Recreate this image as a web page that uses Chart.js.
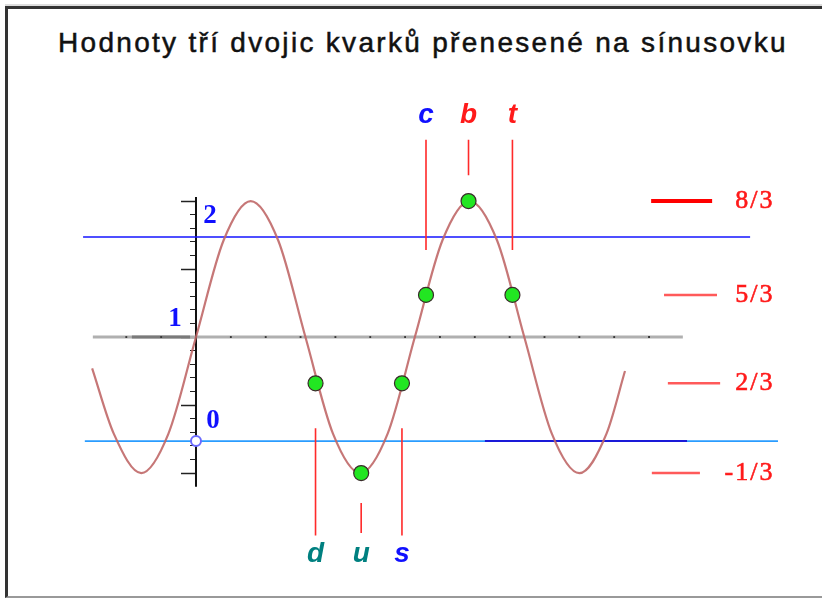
<!DOCTYPE html>
<html>
<head>
<meta charset="utf-8">
<script src="https://cdn.jsdelivr.net/npm/chart.js@4.4.1/dist/chart.umd.min.js"></script>
<style>
html, body { margin: 0; padding: 0; background: #fff; width: 822px; height: 599px; overflow: hidden; }
#frame { position: absolute; left: 5px; top: 6px; width: 840px; height: 587px;
         border-left: 3px solid #333; border-top: 3px solid #333; border-bottom: 2px solid #999;
         box-shadow: 0 -2px 0 #ddd; }
#title { position: absolute; left: 58px; top: 27px; white-space: nowrap;
         font: 28px "Liberation Sans", Arial, sans-serif; line-height: 32px;
         letter-spacing: 2.3px; color: #111; -webkit-text-stroke: 0.5px #111; }
#chart { position: absolute; left: 0; top: 0; }
</style>
</head>
<body>
<div id="frame"></div>
<div id="title">Hodnoty tří dvojic kvarků přenesené na sínusovku</div>
<canvas id="chart" width="822" height="599"></canvas>
<script>
// sine curve (x in radians, y in axis units)
var curveX = [-2.98, -2.36, -1.57, -0.79, 0, 0.79, 1.57, 2.36, 3.14, 3.93, 4.71, 5.50, 6.28, 7.07, 7.85, 8.64, 9.42, 10.21, 11.00, 11.78, 12.31];
var curveY = [0.77, 0.29, 0, 0.29, 1, 1.71, 2, 1.71, 1, 0.29, 0, 0.29, 1, 1.71, 2, 1.71, 1, 0.29, 0, 0.29, 0.75];

// quarks
var quarkNames = ['d', 'u', 's', 'c', 'b', 't'];
var quarkX = [3.43, 4.74, 5.91, 6.6, 7.82, 9.08];
var quarkY = [0.66, 0, 0.66, 1.31, 2, 1.31];

// charge levels on the right
var chargeLabels = ['8/3', '5/3', '2/3', '-1/3'];
var chargeLevels = [2, 1.31, 0.66, 0];
var levelStart = [13.06, 13.43, 13.54, 13.08];
var levelEnd = [14.81, 14.95, 15.04, 14.46];

// vertical axis labels
var axisLabels = ['2', '1', '0'];
var axisLabelValues = [2, 1, 0.235];

// horizontal guide lines
var upperLineY = 1.735;
var upperLineX = [-3.24, 15.9];
var zeroLineY = 0.235;
var zeroLineX = [-3.19, 16.7];
var zeroOverlayX = [8.29, 14.09];

// gray horizontal axis and its ticks
var grayAxisX = [-2.96, 13.97];
var grayAxisDarkX = [-1.84, -0.17];
var grayTicks = [-2, -1, 0, 1, 2, 3, 4, 5, 6, 7, 8, 9, 10, 11, 12, 13];

// vertical axis extent
var vAxisY = [-0.1, 2.03];

var quarkColors = ['#008080', '#008080', '#1010ff', '#1010ff', '#ff1a1a', '#ff1a1a'];

var pts = function (xs, ys) {
    var out = [];
    for (var i = 0; i < xs.length; ++i) {
        out.push({ x: xs[i], y: ys[i] });
    }
    return out;
};

var hline = function (xr, y) {
    return [{ x: xr[0], y: y }, { x: xr[1], y: y }];
};

// marker stubs next to each quark (top row for upper quarks, bottom row for lower)
var markerData = function () {
    var out = [];
    for (var i = 0; i < quarkNames.length; ++i) {
        var top = quarkY[i] > 1;
        var y1, y2;
        if (top) {
            y1 = quarkY[i] === 2 ? 2.19 : 1.64;
            y2 = 2.45;
        } else {
            y1 = quarkY[i] === 0 ? -0.22 : 0.33;
            y2 = quarkY[i] === 0 ? -0.44 : -0.46;
        }
        out.push({ x: quarkX[i], y: y1 }, { x: quarkX[i], y: y2 }, { x: quarkX[i], y: null });
    }
    return out;
};

var levelData = function (from, to) {
    var out = [];
    for (var i = from; i < to; ++i) {
        out.push({ x: levelStart[i], y: chargeLevels[i] }, { x: levelEnd[i], y: chargeLevels[i] }, { x: levelEnd[i], y: null });
    }
    return out;
};

var line = function (data, color, width, order) {
    return { data: data, showLine: true, borderColor: color, borderWidth: width,
             pointRadius: 0, spanGaps: false, order: order };
};

var labelPlugin = {
    id: 'labels',
    afterDatasetsDraw: function (chart) {
        var ctx = chart.ctx;
        var xs = chart.scales.x, ys = chart.scales.y;
        ctx.save();
        ctx.textBaseline = 'middle';
        ctx.textAlign = 'center';
        ctx.font = 'italic bold 28px "Liberation Sans", Arial, sans-serif';
        for (var i = 0; i < quarkNames.length; ++i) {
            var ly = quarkY[i] > 1 ? 2.63 : -0.6;
            ctx.fillStyle = quarkColors[i];
            ctx.fillText(quarkNames[i], xs.getPixelForValue(quarkX[i]), ys.getPixelForValue(ly));
        }
        ctx.font = 'bold 27px "Liberation Serif", "Times New Roman", serif';
        ctx.fillStyle = '#1010ff';
        var ax = [0.4, -0.6, 0.49];
        var ay = [-0.11, 0.13, 0.15];
        for (var j = 0; j < axisLabels.length; ++j) {
            ctx.fillText(axisLabels[j], xs.getPixelForValue(ax[j]), ys.getPixelForValue(axisLabelValues[j] + ay[j]));
        }
        ctx.font = '26px "Liberation Serif", "Times New Roman", serif';
        ctx.letterSpacing = '2px';
        ctx.fillStyle = '#ff1a1a';
        ctx.strokeStyle = '#ff1a1a';
        ctx.lineWidth = 0.6;
        ctx.textAlign = 'right';
        for (var k = 0; k < chargeLabels.length; ++k) {
            var px = xs.getPixelForValue(16.6), py = ys.getPixelForValue(chargeLevels[k]);
            ctx.fillText(chargeLabels[k], px, py);
            ctx.strokeText(chargeLabels[k], px, py);
        }
        ctx.restore();
    }
};

var inRange = function (c) {
    var v = c.tick ? c.tick.value : NaN;
    return (v > vAxisY[0] + 0.05 && v < vAxisY[1] - 0.01) ? '#222' : 'rgba(0,0,0,0)';
};

new Chart(document.getElementById('chart'), {
    type: 'scatter',
    data: {
        datasets: [
            { data: pts(quarkX, quarkY), pointRadius: 7.5, pointHoverRadius: 7.5,
              backgroundColor: '#22e622', borderColor: '#3a2a2a', borderWidth: 1.2, order: 0 },
            line(pts(curveX, curveY), 'rgba(192,104,104,0.9)', 2.2, 1),
            { data: [{ x: 0, y: zeroLineY }], pointRadius: 5, backgroundColor: '#fff',
              borderColor: '#6a6aff', borderWidth: 2, order: 2 },
            line(markerData(), '#ff2a2a', 1.6, 3),
            line(levelData(0, 1), '#ff0000', 4, 3),
            line(levelData(1, 4), '#ff5a5a', 2.5, 3),
            line(hline(upperLineX, upperLineY), '#1515ff', 1.6, 4),
            line(hline(zeroOverlayX, zeroLineY), '#1a1ad8', 2, 4),
            line(hline(zeroLineX, zeroLineY), '#2a9cff', 1.6, 5),
            line([{ x: 0, y: vAxisY[0] }, { x: 0, y: vAxisY[1] }], '#111', 2, 5),
            { data: grayTicks.map(function (t) { return { x: t, y: 1 }; }), pointStyle: 'rect',
              pointRadius: 1.3, backgroundColor: '#333', borderWidth: 0, order: 6 },
            line(hline(grayAxisDarkX, 1), '#7a7a7a', 3, 7),
            line(hline(grayAxisX, 1), '#b0b0b0', 3, 8)
        ]
    },
    options: {
        responsive: false,
        animation: false,
        events: [],
        layout: { padding: 0, autoPadding: false },
        elements: { line: { cubicInterpolationMode: 'monotone' } },
        plugins: { legend: { display: false }, tooltip: { enabled: false }, title: { display: false } },
        scales: {
            x: { type: 'linear', min: -5.624, max: 17.963, display: false },
            y: { type: 'linear', min: -0.926, max: 3.478, display: false },
            yMajor: { type: 'linear', axis: 'y', position: { x: 0 }, min: -0.926, max: 3.478,
                      ticks: { display: false, stepSize: 0.5, includeBounds: false },
                      border: { display: false },
                      grid: { drawOnChartArea: false, tickLength: 15, tickWidth: 1.5, tickColor: inRange } },
            yMinor: { type: 'linear', axis: 'y', position: { x: 0 }, min: -0.926, max: 3.478,
                      ticks: { display: false, stepSize: 0.1, includeBounds: false },
                      border: { display: false },
                      grid: { drawOnChartArea: false, tickLength: 6, tickWidth: 1, tickColor: inRange } }
        }
    },
    plugins: [labelPlugin]
});
</script>
</body>
</html>
